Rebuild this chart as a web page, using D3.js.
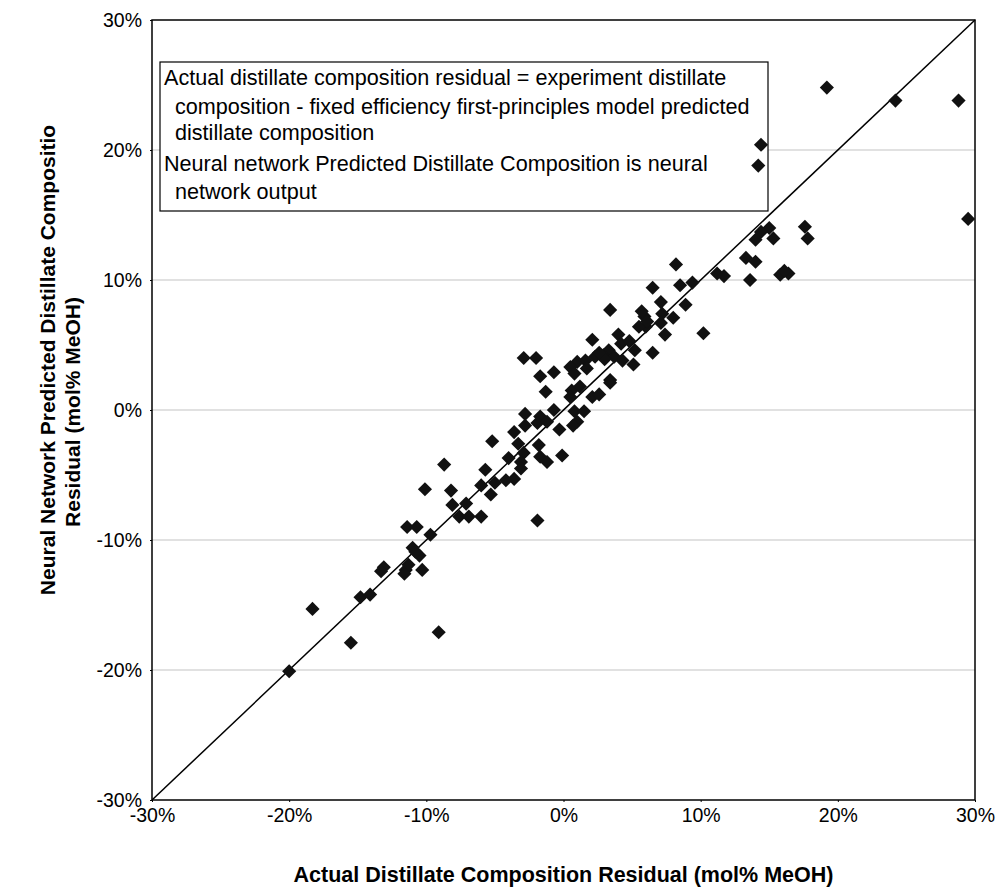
<!DOCTYPE html>
<html>
<head>
<meta charset="utf-8">
<script src="https://cdn.jsdelivr.net/npm/d3@7"></script>
<style>
  body { margin: 0; background: #fff; }
  text { font-family: "Liberation Sans", Arial, sans-serif; }
</style>
</head>
<body>
<svg id="chart" width="1004" height="892"></svg>
<script>
// values in mol% MeOH
const actualResidual = [
  19.2, 24.2, 28.8, 14.4, 14.2, 29.5,
  17.6, 17.8, 15.0, 14.4, 14.0, 15.3, 13.3, 14.0, 13.6, 15.8, 16.4, 16.1,
  8.2, 11.2, 11.7, 6.5, 8.5, 9.4, 7.1, 8.9, 7.2, 8.0, 5.9, 7.4, 10.2, 6.5, 6.0,
  3.4, 5.7, 5.5, 6.1, 7.1, 4.0, 2.1, 4.2, 3.3, 5.2, 2.3, 2.9, 3.7, 4.3, 1.6,
  1.0, 0.5, 1.7, 5.1, -2.9, -2.0, -0.7, -1.7, -1.3, 0.6, 1.2, 0.5, 3.4, 3.4,
  2.1, 2.6, 0.8, 1.5, 1.0, 0.7, -0.7, -2.8, -1.7, 0.8,
  -2.8, -1.9, -1.2, -3.6, -5.2, -3.3, -1.8, -2.9, -4.0, -3.1, -1.7, -1.2, -0.1,
  -3.1, -5.7, -3.6, -4.2, -5.0, -6.0, -5.3, -8.2, -8.1, -7.1, -8.7, -7.6, -6.0,
  -1.9, -10.1, -6.9, -11.4, -10.7, -9.7, -11.0, -10.5, -10.8, -13.1, -13.3,
  -11.5, -10.3, -11.3, -11.6, -14.8, -14.1, -18.3, -15.5, -9.1, -20.0,
  3.0, 4.8, 2.6, -0.3
];
const predictedResidual = [
  24.8, 23.8, 23.8, 20.4, 18.8, 14.7,
  14.1, 13.2, 14.0, 13.7, 13.1, 13.2, 11.7, 11.4, 10.0, 10.4, 10.5, 10.7,
  11.2, 10.5, 10.3, 9.4, 9.6, 9.8, 8.3, 8.1, 7.4, 7.1, 7.2, 5.8, 5.9, 4.4, 6.4,
  7.7, 7.6, 6.4, 6.8, 6.7, 5.8, 5.4, 5.1, 4.6, 4.6, 4.1, 4.2, 4.1, 3.8, 3.8,
  3.7, 3.3, 3.2, 3.5, 4.0, 4.0, 2.9, 2.6, 1.4, 1.5, 1.8, 1.0, 2.3, 2.1,
  1.0, 1.2, -0.1, -0.1, -0.9, -1.2, 0.0, -0.3, -0.5, 2.8,
  -1.2, -1.0, -0.9, -1.7, -2.4, -2.6, -2.7, -3.3, -3.7, -4.0, -3.6, -4.0, -3.5,
  -4.5, -4.6, -5.3, -5.4, -5.6, -5.8, -6.5, -6.2, -7.3, -7.2, -4.2, -8.2, -8.2,
  -8.5, -6.1, -8.2, -9.0, -9.0, -9.6, -10.6, -11.2, -10.9, -12.1, -12.4,
  -12.3, -12.3, -11.9, -12.6, -14.4, -14.2, -15.3, -17.9, -17.1, -20.1,
  3.9, 5.3, 4.4, -1.5
];
const tickValues = [-30, -20, -10, 0, 10, 20, 30];
const gridValues = [-20, -10, 0, 10, 20];
const parityLine = [-30, 30];
const noteLines = [
  "Actual distillate composition residual = experiment distillate",
  "composition - fixed efficiency first-principles model predicted",
  "distillate composition",
  "Neural network Predicted Distillate Composition is neural",
  "network output"
];

const margin = { top: 20, right: 29, bottom: 92, left: 152 };
const width = 1004 - margin.left - margin.right;
const height = 892 - margin.top - margin.bottom;

const svg = d3.select("#chart");
const g = svg.append("g")
  .attr("transform", "translate(" + margin.left + "," + margin.top + ")");

const x = d3.scaleLinear().domain([-30, 30]).range([0, width]);
const y = d3.scaleLinear().domain([-30, 30]).range([height, 0]);

// horizontal gridlines
g.selectAll(".grid")
  .data(gridValues)
  .enter().append("line")
  .attr("x1", 0).attr("x2", width)
  .attr("y1", d => y(d)).attr("y2", d => y(d))
  .attr("stroke", "#c4c4c4")
  .attr("stroke-width", 1.2);

// axes
const fmt = d => d + "%";
const xAxis = g.append("g")
  .attr("transform", "translate(0," + height + ")")
  .call(d3.axisBottom(x).tickValues(tickValues).tickFormat(fmt).tickSize(2).tickPadding(6));
const yAxis = g.append("g")
  .call(d3.axisLeft(y).tickValues(tickValues).tickFormat(fmt).tickSize(2).tickPadding(8));

[xAxis, yAxis].forEach(a => {
  a.select(".domain").remove();
  a.selectAll("line").attr("stroke", "#000");
  a.selectAll("text")
    .attr("font-size", 19.5)
    .attr("fill", "#000")
    .style("font-family", "'Liberation Sans', Arial, sans-serif");
});

// plot border
g.append("rect")
  .attr("x", 0).attr("y", 0)
  .attr("width", width).attr("height", height)
  .attr("fill", "none")
  .attr("stroke", "#000")
  .attr("stroke-width", 1.5);

// parity line
g.append("line")
  .attr("x1", x(parityLine[0])).attr("y1", y(parityLine[0]))
  .attr("x2", x(parityLine[1])).attr("y2", y(parityLine[1]))
  .attr("stroke", "#000")
  .attr("stroke-width", 1.5);

// note box
const note = g.append("g").attr("transform", "translate(8,42)");
note.append("rect")
  .attr("width", 608).attr("height", 149)
  .attr("fill", "#fff")
  .attr("stroke", "#000")
  .attr("stroke-width", 1.2);
const noteY = [15, 44, 70, 101, 129];
const noteX = [4, 15, 15, 4, 15];
note.selectAll("text")
  .data(noteLines)
  .enter().append("text")
  .attr("x", (d, i) => noteX[i])
  .attr("y", (d, i) => noteY[i])
  .attr("dy", "0.35em")
  .attr("font-size", 21.6)
  .text(d => d);

// points
const points = actualResidual.map((v, i) => ({ x: v, y: predictedResidual[i] }));
const diamond = d3.symbol().type(d3.symbolSquare).size(100);
g.selectAll(".pt")
  .data(points)
  .enter().append("path")
  .attr("d", diamond)
  .attr("transform", d => "translate(" + x(d.x) + "," + y(d.y) + ") rotate(45)")
  .attr("fill", "#111");

// axis titles
svg.append("text")
  .attr("x", margin.left + width / 2)
  .attr("y", 882)
  .attr("text-anchor", "middle")
  .attr("font-size", 21.5)
  .attr("font-weight", "bold")
  .text("Actual Distillate Composition Residual (mol% MeOH)");

svg.append("text")
  .attr("transform", "translate(55,360) rotate(-90)")
  .attr("text-anchor", "middle")
  .attr("font-size", 21)
  .attr("font-weight", "bold")
  .text("Neural Network Predicted Distillate Compositio");
svg.append("text")
  .attr("transform", "translate(80,412) rotate(-90)")
  .attr("text-anchor", "middle")
  .attr("font-size", 21)
  .attr("font-weight", "bold")
  .text("Residual (mol% MeOH)");
</script>
</body>
</html>
